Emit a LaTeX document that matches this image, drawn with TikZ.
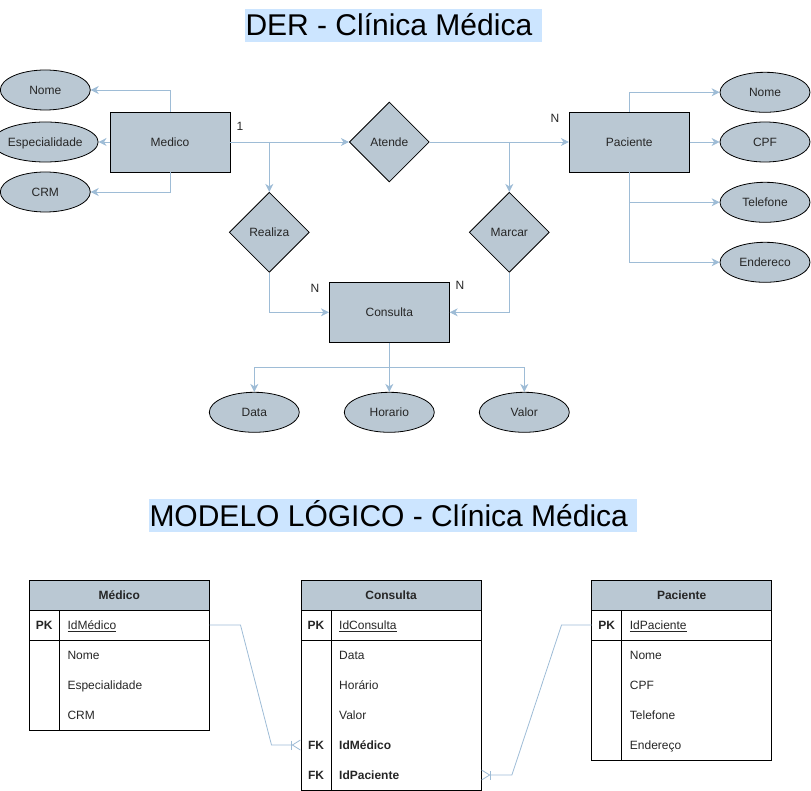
\documentclass[tikz,border=0pt]{standalone}
\usepackage{fontspec}
\setmainfont{Liberation Sans}
\usetikzlibrary{shapes.geometric,arrows.meta}

\definecolor{erfill}{HTML}{BAC8D3}
\definecolor{edge}{HTML}{9EBCD6}
\definecolor{hilite}{HTML}{CCE5FF}
\definecolor{ertext}{HTML}{262626}

\begin{document}
\begin{tikzpicture}[x=1pt, y=-1pt, font=\fontsize{12}{14}\selectfont]

  % Set up styles for the diagram
  \tikzset{
      lbl/.style={text=ertext, text height=8.6pt, text depth=0pt},
      entity/.style={lbl, rectangle, draw=black, line width=0.8pt, fill=erfill, minimum width=120pt, minimum height=60pt},
      relation/.style={lbl, diamond, draw=black, line width=0.8pt, fill=erfill, aspect=1, inner sep=0pt, minimum width=80pt, minimum height=80pt},
      attrib/.style={lbl, ellipse, draw=black, line width=0.8pt, fill=erfill, inner sep=0pt, minimum width=90pt, minimum height=40pt},
      card/.style={lbl, inner sep=0pt},
      conn/.style={draw=edge, line width=0.8pt, -{Stealth[length=8pt,width=8pt,inset=2.5pt]}},
      heading/.style={fill=hilite, anchor=base west, inner xsep=1pt, inner ysep=0pt, text height=26.7pt, text depth=6.3pt, font=\fontsize{30}{36}\selectfont},
      tblhead/.style={lbl, draw=black, line width=0.8pt, fill=erfill, minimum width=180pt, minimum height=30pt, font=\fontsize{12}{14}\selectfont\bfseries},
      tblrow/.style={minimum width=180pt, minimum height=30pt, inner sep=0pt},
      tblline/.style={draw=black, line width=0.8pt},
      tblkey/.style={lbl, inner sep=0pt, font=\fontsize{12}{14}\selectfont\bfseries},
      tblfield/.style={lbl, anchor=west, inner xsep=8pt, inner ysep=0pt},
      crow/.style={draw=edge, line width=0.8pt, -{Bar[width=9pt]Straight Barb[reversed,length=8pt,width=10pt]}}
  }

  \useasboundingbox (0,0) rectangle (811,791);

  % Titles
  \node[heading] (dertitle) at (244.3,36) {DER - Clínica Médica\rule{8.3pt}{0pt}};
  \node[heading] (logtitle) at (148.3,526) {MODELO LÓGICO - Clínica Médica\rule{8.3pt}{0pt}};

  % Entities and relationships
  \node[entity] (medico) at (170,142) {Medico};
  \node[entity] (paciente) at (629.3,142) {Paciente};
  \node[entity] (consulta) at (389.3,312.3) {Consulta};

  \node[relation] (atende) at (389.3,142) {Atende};
  \node[relation] (realiza) at (269.3,232.3) {Realiza};
  \node[relation] (marcar) at (509.3,232.3) {Marcar};

  % Attributes
  \node[attrib] (mednome) at (45.3,90) {Nome};
  \node[attrib] (medesp) at (45.3,142) {Especialidade};
  \node[attrib] (medcrm) at (45.3,192) {CRM};

  \node[attrib] (pacnome) at (765,92.3) {Nome};
  \node[attrib] (paccpf) at (765,142) {CPF};
  \node[attrib] (pactel) at (765,202.3) {Telefone};
  \node[attrib] (pacend) at (765,262.3) {Endereco};

  \node[attrib] (condata) at (254.3,412.3) {Data};
  \node[attrib] (conhora) at (389.3,412.3) {Horario};
  \node[attrib] (convalor) at (524.3,412.3) {Valor};

  % Cardinalities
  \node[card] (cmed) at (240,126) {1};
  \node[card] (cpac) at (555,118) {N};
  \node[card] (cconl) at (315,288) {N};
  \node[card] (cconr) at (460,285) {N};

  % Connectors
  \draw[conn] (medico.north) |- (mednome.east);
  \draw[conn] (medico.west) -- (medesp.east);
  \draw[conn] (medico.south) |- (medcrm.east);

  \draw[conn] (medico.east) -- (atende.west);
  \draw[conn] (medico.east -| realiza.north) -- (realiza.north);
  \draw[conn] (atende.east) -- (paciente.west);
  \draw[conn] (atende.east -| marcar.north) -- (marcar.north);

  \draw[conn] (realiza.south) |- (consulta.west);
  \draw[conn] (marcar.south) |- (consulta.east);

  \draw[conn] (paciente.north) |- (pacnome.west);
  \draw[conn] (paciente.east) -- (paccpf.west);
  \draw[conn] (paciente.south) |- (pactel.west);
  \draw[conn] (paciente.south) |- (pacend.west);

  \coordinate (split) at (389.3,367.3);
  \draw[conn] (consulta.south) -- (conhora.north);
  \draw[conn] (split) -| (condata.north);
  \draw[conn] (split) -| (convalor.north);

  % Médico table
  \node[tblhead] (medhead) at (119.3,595) {Médico};
  \node[tblrow] (medpk) at (119.3,625) {};
  \draw[tblline] (29.3,610) rectangle (209.3,730);
  \draw[tblline] (29.3,640) -- (209.3,640);
  \draw[tblline] (59.3,610) -- (59.3,730);
  \node[tblkey] at (44.3,625) {PK};
  \node[tblfield] at (59.3,625) {\underline{IdMédico}};
  \foreach \y/\txt in {655/Nome, 685/Especialidade, 715/CRM}
      \node[tblfield] at (59.3,\y) {\txt};

  % Consulta table
  \node[tblhead] (conhead) at (391,595) {Consulta};
  \node[tblrow] (conpk) at (391,625) {};
  \node[tblrow] (confkmed) at (391,745) {};
  \node[tblrow] (confkpac) at (391,775) {};
  \draw[tblline] (301,610) rectangle (481,790.5);
  \draw[tblline] (301,640) -- (481,640);
  \draw[tblline] (331,610) -- (331,790.5);
  \node[tblkey] at (316,625) {PK};
  \node[tblfield] at (331,625) {\underline{IdConsulta}};
  \foreach \y/\txt in {655/Data, 685/Horário, 715/Valor}
      \node[tblfield] at (331,\y) {\txt};
  \node[tblkey] at (316,745) {FK};
  \node[tblfield, font=\fontsize{12}{14}\selectfont\bfseries] at (331,745) {IdMédico};
  \node[tblkey] at (316,775) {FK};
  \node[tblfield, font=\fontsize{12}{14}\selectfont\bfseries] at (331,775) {IdPaciente};

  % Paciente table
  \node[tblhead] (pachead) at (681.7,595) {Paciente};
  \node[tblrow] (pacpk) at (681.7,625) {};
  \draw[tblline] (591.7,610) rectangle (771.7,760);
  \draw[tblline] (591.7,640) -- (771.7,640);
  \draw[tblline] (621.7,610) -- (621.7,760);
  \node[tblkey] at (606.7,625) {PK};
  \node[tblfield] at (621.7,625) {\underline{IdPaciente}};
  \foreach \y/\txt in {655/Nome, 685/CPF, 715/Telefone, 745/Endereço}
      \node[tblfield] at (621.7,\y) {\txt};

  % Relationships between tables
  \draw[crow] (medpk.east) -- ++(31,0) -- ([xshift=-29.3pt]confkmed.west) -- (confkmed.west);
  \draw[crow] (pacpk.west) -- ++(-30,0) -- ([xshift=30.7pt]confkpac.east) -- (confkpac.east);

\end{tikzpicture}
\end{document}
